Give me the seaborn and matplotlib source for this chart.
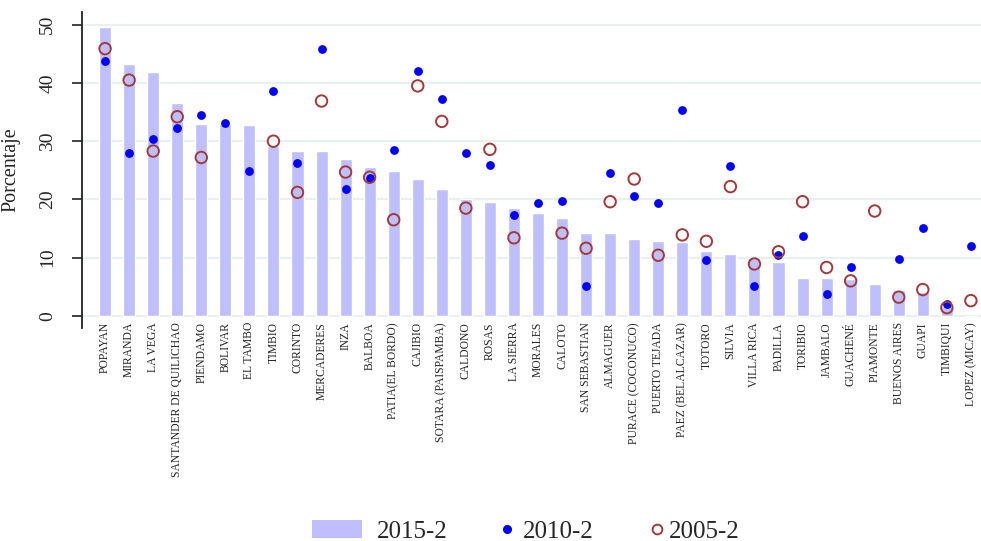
import numpy as np
import pandas as pd
import matplotlib
matplotlib.use("Agg")
import matplotlib.pyplot as plt
import seaborn as sns
from matplotlib.patches import Patch
from matplotlib.lines import Line2D

nan = np.nan
municipios = ["POPAYAN", "MIRANDA", "LA VEGA", "SANTANDER DE QUILICHAO", "PIENDAMO",
              "BOLIVAR", "EL TAMBO", "TIMBIO", "CORINTO", "MERCADERES", "INZA", "BALBOA",
              "PATIA(EL BORDO)", "CAJIBIO", "SOTARA (PAISPAMBA)", "CALDONO", "ROSAS",
              "LA SIERRA", "MORALES", "CALOTO", "SAN SEBASTIAN", "ALMAGUER",
              "PURACE (COCONUCO)", "PUERTO TEJADA", "PAEZ (BELALCAZAR)", "TOTORO", "SILVIA",
              "VILLA RICA", "PADILLA", "TORIBIO", "JAMBALO", "GUACHENÉ", "PIAMONTE",
              "BUENOS AIRES", "GUAPI", "TIMBIQUI", "LOPEZ (MICAY)"]
v2015 = [49.7, 43.2, 41.9, 36.6, 32.9, 32.9, 32.7, 29.2, 28.3, 28.3, 27.0, 25.5, 24.8,
         23.5, 21.7, 20.0, 19.5, 18.6, 17.7, 16.8, 14.3, 14.3, 13.2, 12.8, 12.6, 11.2,
         10.7, 10.0, 9.3, 6.5, 6.5, 6.3, 5.5, 4.5, 4.1, 1.7, 0.0]
v2010 = [43.8, 27.9, 30.3, 32.2, 34.5, 33.1, 24.8, 38.6, 26.2, 45.8, 21.7, 23.7, 28.5,
         42.1, 37.2, 27.9, 25.9, 17.4, 19.3, 19.8, 5.2, 24.6, 20.6, 19.3, 35.3, 9.5,
         25.7, 5.2, 10.4, 13.7, 3.7, 8.4, nan, 9.8, 15.1, 2.1, 12.0]
v2005 = [45.9, 40.5, 28.3, 34.2, 27.2, nan, nan, 30.0, 21.2, 36.9, 24.7, 23.8, 16.5,
         39.5, 33.4, 18.5, 28.6, 13.4, nan, 14.2, 11.6, 19.6, 23.5, 10.4, 13.9, 12.8,
         22.2, 8.9, 11.0, 19.6, 8.3, 6.0, 18.0, 3.2, 4.5, 1.4, 2.6]
yticks = [0, 10, 20, 30, 40, 50]
series_labels = ["2015-2", "2010-2", "2005-2"]

bar_color = "#bfbffd"
blue = "#0000ff"
red = "#a33a3a"

sns.set_style("white")
plt.rcParams["font.family"] = ["Liberation Serif", "DejaVu Serif"]

W, H = 981, 541
fig = plt.figure(figsize=(W / 100, H / 100), dpi=100)
ax_left, ax_right, ax_top, ax_bottom = 82, 981, 12, 328
ax = fig.add_axes([ax_left / W, 1 - ax_bottom / H, (ax_right - ax_left) / W, (ax_bottom - ax_top) / H])

df = pd.DataFrame({"m": municipios, "v2015": v2015, "v2010": v2010, "v2005": v2005})

sns.barplot(data=df, x="m", y="v2015", color=bar_color, saturation=1, width=0.5, ax=ax, zorder=2)
sns.scatterplot(data=df, x="m", y="v2010", color=blue, s=40, linewidth=0, marker="o", ax=ax, zorder=3)
sns.scatterplot(data=df, x="m", y="v2005", color=red, facecolor="none", edgecolor=red,
                s=68, linewidth=1.4, marker="o", ax=ax, zorder=4)

ax.set_xlim(-0.96, 36.42)
ax.set_ylim(-2.1, 52.2)
ax.set_yticks(yticks)
ax.set_yticklabels([str(t) for t in yticks], fontsize=14, rotation=90, va="center")
ax.yaxis.grid(True, color="#e8f0f0", linewidth=1.6, zorder=0)
ax.set_axisbelow(True)
for s in ["top", "right", "bottom"]:
    ax.spines[s].set_visible(False)
ax.spines["left"].set_color("#222222")
ax.spines["left"].set_linewidth(1.3)
ax.tick_params(axis="y", length=7.5, width=1.2, color="#222222", pad=11, left=True)
ax.tick_params(axis="x", length=0, pad=-4.3, labelsize=8.4)
for lab in ax.get_xticklabels():
    lab.set_rotation(90)
    lab.set_va("top")
    lab.set_ha("center")
ax.set_xlabel("")
ax.set_ylabel("Porcentaje", fontsize=14.5, labelpad=6)
ax.yaxis.set_label_coords(-(82 - 20) / (ax_right - ax_left), 0.5)
if ax.get_legend():
    ax.get_legend().remove()

# legend (three entries, positioned separately)
fs = 18
ly = 1 - 520 / H
leg1 = fig.legend(handles=[Patch(facecolor=bar_color, edgecolor="none")], labels=[series_labels[0]],
                  loc="upper left", bbox_to_anchor=(312 / W, ly), frameon=False, fontsize=fs,
                  handlelength=2.0, handleheight=0.75, handletextpad=0.6, borderpad=0, borderaxespad=0)
leg2 = fig.legend(handles=[Line2D([], [], ls="none", marker="o", ms=5.5, mfc=blue, mec=blue)],
                  labels=[series_labels[1]], loc="upper left", bbox_to_anchor=(500 / W, ly),
                  frameon=False, fontsize=fs, handlelength=0.55, handletextpad=0.35, borderpad=0, borderaxespad=0)
leg3 = fig.legend(handles=[Line2D([], [], ls="none", marker="o", ms=7, mfc="none", mec=red, mew=1.4)],
                  labels=[series_labels[2]], loc="upper left", bbox_to_anchor=(650 / W, ly),
                  frameon=False, fontsize=fs, handlelength=0.55, handletextpad=0.2, borderpad=0, borderaxespad=0)

fig.savefig("out.png", dpi=100)
